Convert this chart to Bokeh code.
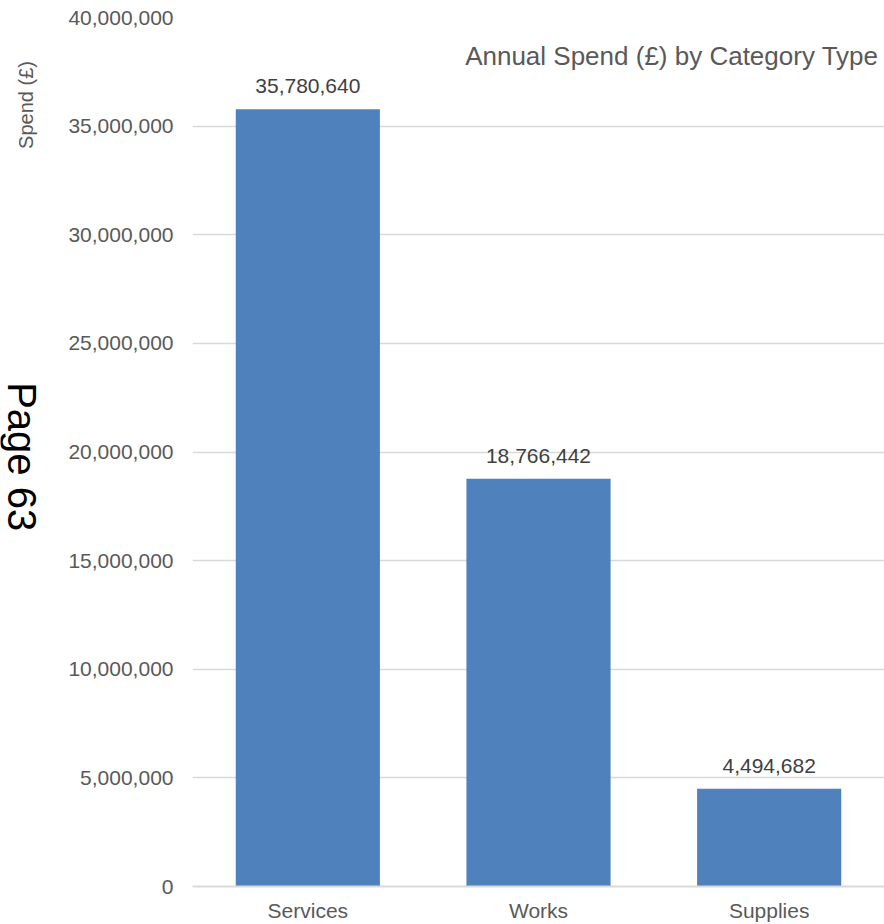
import math
from bokeh.plotting import figure
from bokeh.layouts import row
from bokeh.core.properties import value
from bokeh.models import ColumnDataSource, LabelSet, Label, FactorRange, Range1d, NumeralTickFormatter, FixedTicker
from bokeh.embed import file_html
from bokeh.resources import INLINE

categories = ["Services", "Works", "Supplies"]
spend = [35780640, 18766442, 4494682]
spend_labels = ["35,780,640", "18,766,442", "4,494,682"]
y_ticks = [0, 5000000, 10000000, 15000000, 20000000, 25000000, 30000000, 35000000, 40000000]

FONT = "Liberation Sans"
GRAY = "#595959"

src = ColumnDataSource(dict(cat=categories, val=spend, lab=spend_labels))

# side strip for the vertical texts
side = figure(width=60, height=924, x_range=Range1d(0, 60), y_range=Range1d(0, 924),
              x_axis_type=None, y_axis_type=None, output_backend="svg", toolbar_location=None,
              min_border=0)
side.outline_line_color = None
side.grid.grid_line_color = None
side.text(x=[21], y=[457], text=["Page 63"], angle=-math.pi / 2, text_align="center",
          text_baseline="middle", text_font=value(FONT), text_font_size=value("40px"), text_color="black")
side.text(x=[25], y=[831], text=["Spend (£)"], angle=math.pi / 2, text_align="center",
          text_baseline="middle", text_font=value(FONT), text_font_size=value("20px"), text_color=GRAY)

p = figure(width=824, height=924, x_range=FactorRange(*categories), y_range=Range1d(0, 40000000),
           output_backend="svg", toolbar_location=None,
           min_border_left=132, min_border_right=0, min_border_top=17, min_border_bottom=38)
p.outline_line_color = None
p.background_fill_color = "white"

p.vbar(x="cat", top="val", width=0.625, source=src, fill_color="#4f81bd", line_color=None)

p.yaxis.ticker = FixedTicker(ticks=y_ticks)
p.yaxis.formatter = NumeralTickFormatter(format="0,0")
p.yaxis.axis_line_color = None
p.yaxis.major_tick_line_color = None
p.yaxis.major_tick_out = 0
p.yaxis.major_tick_in = 0
p.yaxis.minor_tick_line_color = None
p.yaxis.major_label_text_font = FONT
p.yaxis.major_label_text_font_size = "21px"
p.yaxis.major_label_text_color = GRAY
p.yaxis.major_label_standoff = 19

p.xaxis.axis_line_color = "#d9d9d9"
p.xaxis.axis_line_width = 2
p.xaxis.major_tick_line_color = None
p.xaxis.major_tick_out = 0
p.xaxis.major_tick_in = 0
p.xaxis.minor_tick_line_color = None
p.xaxis.major_label_text_font = FONT
p.xaxis.major_label_text_font_size = "21px"
p.xaxis.major_label_text_color = GRAY
p.xaxis.major_label_standoff = 12

p.xgrid.grid_line_color = None
p.ygrid.grid_line_color = "#d9d9d9"
p.ygrid.grid_line_width = 1.5

labels = LabelSet(x="cat", y="val", text="lab", source=src, text_align="center", text_baseline="bottom",
                  y_offset=16, text_font=value(FONT), text_font_size=value("21px"), text_color="#404040")
p.add_layout(labels)

p.add_layout(Label(x=686, y=831, x_units="screen", y_units="screen", text="Annual Spend (£) by Category Type",
                   text_align="right", text_baseline="middle", text_font=FONT, text_font_size="26px",
                   text_color=GRAY))

layout = row(side, p, spacing=0)
open("out.html", "w").write(file_html(layout, INLINE))
